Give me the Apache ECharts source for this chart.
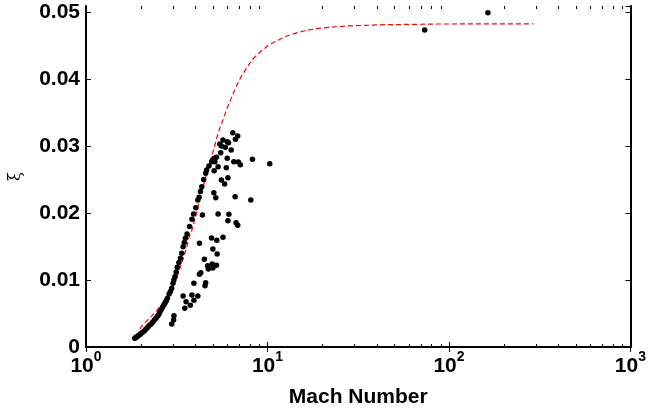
<!DOCTYPE html>
<html>
<head>
<meta charset="utf-8">
<script src="https://cdn.jsdelivr.net/npm/echarts@6/dist/echarts.min.js"></script>
<style>
  html, body { margin: 0; padding: 0; background: #fff; }
  #chart { width: 649px; height: 415px; }
</style>
</head>
<body>
<div id="chart"></div>
<script>
// measured points [Mach, xi] - dots that sit on the model curve
var onCurvePoints = [
  [1.856, 0.00129], [1.88, 0.0014], [1.90, 0.0015], [1.934, 0.00164], [1.96, 0.00178],
  [1.99, 0.0019], [2.016, 0.00204], [2.05, 0.0022], [2.102, 0.00244], [2.14, 0.0027],
  [2.190, 0.00294], [2.23, 0.0032], [2.283, 0.00343], [2.33, 0.0037], [2.380, 0.00403],
  [2.43, 0.0043], [2.481, 0.00463], [2.52, 0.0049], [2.554, 0.00527], [2.60, 0.0056],
  [2.641, 0.00592], [2.69, 0.0063], [2.729, 0.00662], [2.77, 0.0069], [2.810, 0.00726],
  [2.869, 0.00791], [2.92, 0.0083], [2.966, 0.00876], [3.016, 0.00950], [3.05, 0.0100],
  [3.092, 0.01050], [3.14, 0.0112], [3.184, 0.01189], [3.25, 0.0126], [3.317, 0.01323],
  [3.37, 0.0140], [3.428, 0.01497], [3.48, 0.0156], [3.530, 0.01622], [3.605, 0.01687],
  [3.72, 0.0180], [3.836, 0.01906], [3.916, 0.01985], [4.03, 0.0208], [4.133, 0.02194],
  [4.202, 0.02234], [4.27, 0.0232], [4.344, 0.02393], [4.45, 0.0250], [4.565, 0.02592],
  [4.622, 0.02642], [4.758, 0.02701], [4.920, 0.02766], [5.00, 0.0279], [5.085, 0.02816]
];

// measured points [Mach, xi] - scattered below the curve, plus the two far ones
var offCurvePoints = [
  [6.442, 0.03199], [6.855, 0.03149], [6.659, 0.03100], [5.688, 0.03090], [6.002, 0.03065],
  [6.103, 0.03050], [5.458, 0.03030], [5.572, 0.03000], [5.857, 0.02980], [6.310, 0.02940],
  [5.525, 0.02900], [5.236, 0.02831], [5.129, 0.02766], [5.345, 0.02692], [5.085, 0.02632],
  [6.002, 0.02816], [6.523, 0.02766], [6.913, 0.02761], [7.087, 0.02721], [8.263, 0.02801],
  [10.29, 0.02736], [5.929, 0.02677], [5.572, 0.02493], [6.053, 0.02527], [5.808, 0.02433],
  [5.064, 0.02303], [5.192, 0.02229], [6.632, 0.02244], [8.093, 0.02194], [4.380, 0.01970],
  [5.345, 0.01985], [6.129, 0.01980], [6.053, 0.01886], [6.714, 0.01856], [6.855, 0.01816],
  [4.920, 0.01627], [5.256, 0.01592], [5.688, 0.01637], [4.219, 0.01547], [5.003, 0.01463],
  [5.278, 0.01388], [4.490, 0.01308], [4.961, 0.01239], [5.236, 0.01219], [4.681, 0.01214],
  [4.720, 0.01164], [5.003, 0.01179], [4.290, 0.01109], [4.219, 0.01085], [3.932, 0.00950],
  [4.565, 0.00960], [4.527, 0.00915], [3.836, 0.00776], [4.133, 0.00761], [3.428, 0.00761],
  [3.560, 0.00677], [3.932, 0.00697], [3.756, 0.00622], [3.501, 0.00577], [3.053, 0.00468],
  [3.040, 0.00403], [2.966, 0.00343],
  [73.5, 0.04731], [163.9, 0.0499]
];

// model curve
var modelCurve = [
  [1.98, 0.0027], [2.016, 0.00303], [2.190, 0.00403], [2.430, 0.00527], [2.641, 0.00652],
  [2.810, 0.00761], [2.990, 0.00900], [3.184, 0.01050], [3.317, 0.01199], [3.457, 0.01348],
  [3.605, 0.01507], [3.680, 0.01622], [3.836, 0.01746], [3.964, 0.01896], [4.081, 0.02020],
  [4.202, 0.02169], [4.344, 0.02318], [4.527, 0.02493], [4.681, 0.02642], [4.818, 0.02751],
  [4.920, 0.02841], [5.129, 0.03015], [5.345, 0.03189], [5.458, 0.03264], [5.688, 0.03388],
  [5.929, 0.03537], [6.310, 0.03711], [6.714, 0.03886], [7.146, 0.04035], [7.766, 0.04184],
  [8.263, 0.04294], [9.167, 0.04408], [10.17, 0.04507], [11.28, 0.04572], [12.78, 0.04642],
  [14.17, 0.04682], [16.05, 0.04721], [18.56, 0.04751], [21.90, 0.04771], [26.96, 0.04791],
  [34.57, 0.04801], [44.36, 0.04811], [61.8, 0.04816], [86.1, 0.04821], [150, 0.04823],
  [292, 0.04824]
];

// log axis minor ticks (2..9 in each decade)
var minorTickValues = [2, 3, 4, 5, 6, 7, 8, 9, 20, 30, 40, 50, 60, 70, 80, 90,
  200, 300, 400, 500, 600, 700, 800, 900];

var yTickLabels = ['0', '0.01', '0.02', '0.03', '0.04', '0.05'];

var FONT = 'Liberation Sans';
var chart = echarts.init(document.getElementById('chart'));

var axisLine = { show: true, lineStyle: { color: '#000', width: 2 } };
var tickIn = { show: true, inside: true, length: 5, lineStyle: { color: '#000', width: 1 } };

chart.setOption({
  animation: false,
  backgroundColor: '#fff',
  grid: { left: 82, top: 6, width: 552, height: 341 },
  xAxis: [
    {
      type: 'log',
      logBase: 10,
      min: 1,
      max: 1000,
      name: 'Mach Number',
      nameLocation: 'middle',
      nameGap: 40,
      nameTextStyle: { fontFamily: FONT, fontWeight: 'bold', fontSize: 21, color: '#000' },
      axisLine: axisLine,
      axisTick: tickIn,
      splitLine: { show: false },
      axisLabel: {
        margin: 3,
        formatter: function (v) {
          return '{b|10}{s|' + Math.round(Math.log10(v)) + '}';
        },
        rich: {
          b: { fontFamily: FONT, fontWeight: 'bold', fontSize: 21, color: '#000', lineHeight: 27, verticalAlign: 'bottom' },
          s: { fontFamily: FONT, fontWeight: 'bold', fontSize: 14, color: '#000', lineHeight: 14, verticalAlign: 'top' }
        }
      }
    },
    {
      type: 'log',
      logBase: 10,
      min: 1,
      max: 1000,
      position: 'top',
      axisLine: axisLine,
      axisTick: tickIn,
      axisLabel: { show: false },
      splitLine: { show: false }
    }
  ],
  yAxis: [
    {
      type: 'value',
      min: 0,
      max: 0.0509,
      interval: 0.01,
      name: 'ξ',
      nameLocation: 'middle',
      nameGap: 62,
      nameTextStyle: { fontFamily: 'DejaVu Serif', fontSize: 16, color: '#000' },
      axisLine: axisLine,
      axisTick: tickIn,
      splitLine: { show: false },
      axisLabel: {
        margin: 6,
        showMaxLabel: false,
        fontFamily: FONT,
        fontWeight: 'bold',
        fontSize: 21,
        color: '#000',
        formatter: function (v) {
          return yTickLabels[Math.round(v / 0.01)];
        }
      }
    },
    {
      type: 'value',
      min: 0,
      max: 0.0509,
      interval: 0.01,
      position: 'right',
      axisLine: axisLine,
      axisTick: tickIn,
      axisLabel: { show: false },
      splitLine: { show: false }
    }
  ],
  series: [
    {
      type: 'line',
      data: modelCurve,
      showSymbol: false,
      symbol: 'none',
      lineStyle: { color: '#ff0000', width: 1.2, type: [5, 3] },
      z: 2
    },
    {
      type: 'scatter',
      data: onCurvePoints.concat(offCurvePoints),
      symbolSize: 5.5,
      itemStyle: { color: '#000', opacity: 1 },
      z: 3
    },
    {
      type: 'custom',
      silent: true,
      clip: false,
      data: minorTickValues.map(function (v) { return [v, 0]; }),
      renderItem: function (params, api) {
        var cs = params.coordSys;
        var x = Math.round(api.coord([api.value(0), 0])[0]) + 0.5;
        var bottom = cs.y + cs.height;
        var st = { stroke: '#000', lineWidth: 1 };
        return {
          type: 'group',
          children: [
            { type: 'line', shape: { x1: x, y1: bottom, x2: x, y2: bottom - 3 }, style: st },
            { type: 'line', shape: { x1: x, y1: cs.y, x2: x, y2: cs.y + 3 }, style: st }
          ]
        };
      },
      z: 4
    }
  ]
});
</script>
</body>
</html>
